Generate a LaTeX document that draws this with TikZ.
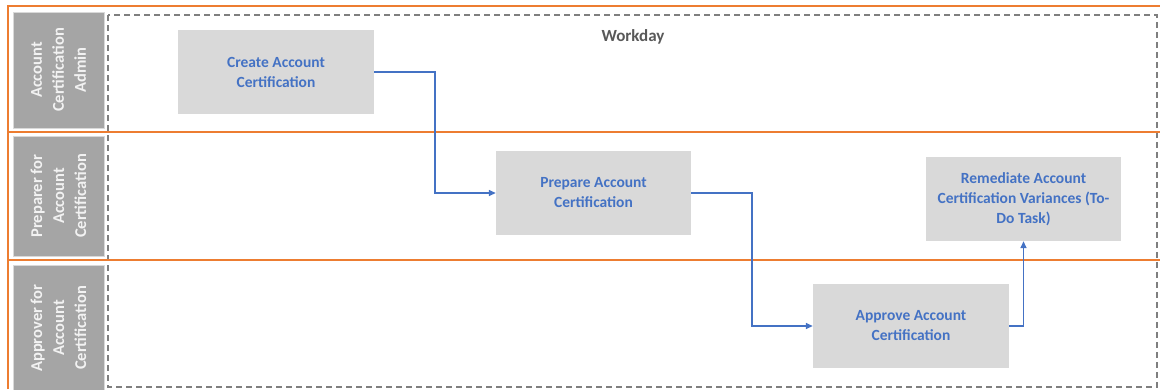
\documentclass[tikz,border=0pt]{standalone}
\usepackage{fontspec}
\setmainfont{Carlito}
\usetikzlibrary{arrows.meta}
\definecolor{lane}{HTML}{ED7D31}
\definecolor{lbl}{HTML}{A5A5A5}
\definecolor{boxfill}{HTML}{D9D9D9}
\definecolor{flow}{HTML}{4472C4}
\definecolor{dashgray}{HTML}{7F7F7F}
\definecolor{title}{HTML}{595959}
\tikzset{
  laneline/.style={draw=lane, line width=1.6pt},
  lanelabel/.style={rotate=90, fill=lbl, draw=boxfill, line width=1pt, inner sep=0pt,
    text=white!95!black, font=\bfseries\fontsize{16.5}{22}\selectfont, align=center, minimum height=91pt},
  task/.style={fill=boxfill, draw=none, minimum width=196pt, minimum height=84pt, inner sep=0pt,
    text=flow, font=\bfseries\fontsize{15.5}{20}\selectfont, align=center},
  flowline/.style={draw=flow, line width=1.5pt, -{Triangle[length=7pt,width=6pt]}},
}
\begin{document}
\begin{tikzpicture}[x=1pt,y=-1pt]
\useasboundingbox (0,0) rectangle (1160,389);
% dashed pool
\draw[dashgray, line width=1.6pt, dash pattern=on 6pt off 4pt] (108,15) rectangle (1157,387);
% lanes
\draw[laneline] (8,389) -- (8,6) -- (1160,6);
\draw[laneline] (8,132) -- (1160,132);
\draw[laneline] (8,260) -- (1160,260);
% lane labels
\node[lanelabel, minimum width=116pt] (l1) at (58.5,70) {Account\\Certification\\Admin};
\node[lanelabel, minimum width=120pt] (l2) at (58.5,196) {Preparer for\\Account\\Certification};
\node[lanelabel, minimum width=126pt] (l3) at (58.5,328) {Approver for\\Account\\Certification};
% title
\node[text=title, font=\bfseries\fontsize{17}{20}\selectfont] (wd) at (633,37) {Workday};
% tasks
\node[task] (create) at (276,72) {Create Account\\Certification};
\node[task, minimum width=195pt] (prepare) at (593.5,193) {Prepare Account\\Certification};
\node[task, minimum width=195pt] (remed) at (1023.5,199) {Remediate Account\\Certification Variances (To-\\Do Task)};
\node[task] (approve) at (911,326) {Approve Account\\Certification};
% flows
\draw[flowline] (create.east) -- ++(61,0) |- (prepare.west);
\draw[flowline] (prepare.east) -- ++(61,0) |- (approve.west);
\draw[flowline] (approve.east) -| (remed.south);
\end{tikzpicture}
\end{document}
